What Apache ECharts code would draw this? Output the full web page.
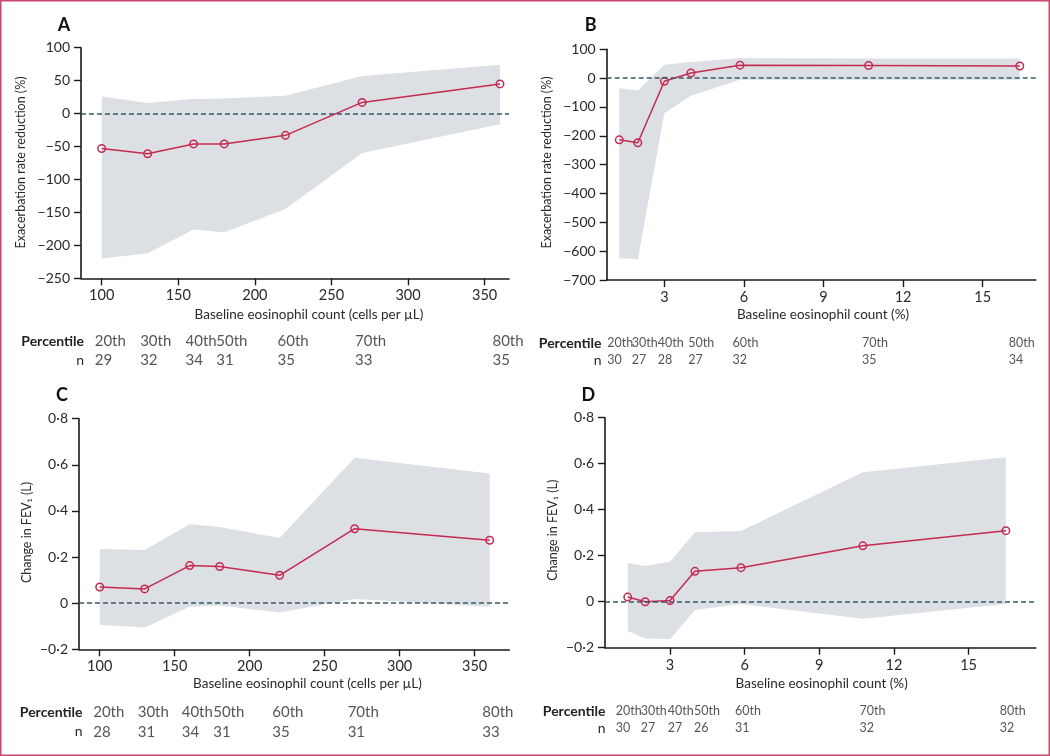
<!DOCTYPE html>
<html><head><meta charset="utf-8">
<script src="https://cdn.jsdelivr.net/npm/echarts@6/dist/echarts.min.js"></script>
<style>html,body{margin:0;padding:0;background:#fff}#c{width:1050px;height:756px}</style>
</head><body><div id="c"></div>
<script>
// ---------------- DATA ----------------
const eosCells = [100, 130, 160, 180, 220, 270, 360];
const eosPctB = [1.3, 2.0, 3.0, 4.0, 5.85, 10.7, 16.4];
const eosPctD = [1.3, 2.0, 3.0, 4.0, 5.85, 10.75, 16.5];
const percentiles = ['20th', '30th', '40th', '50th', '60th', '70th', '80th'];
const xTicksCells = [100, 150, 200, 250, 300, 350];
const xTicksPct = [3, 6, 9, 12, 15];

const rateA = [-53, -61, -46, -46, -33, 17, 45];
const rateA_lo = [-220, -212, -176, -180, -145, -60, -16];
const rateA_hi = [26, 16, 22, 23, 27, 57, 74];
const nA = [29, 32, 34, 31, 35, 33, 35];

const rateB = [-214, -224, -11, 18, 45, 44, 42];
const rateB_lo = [-625, -628, -122, -61, -6, -6, -6];
const rateB_hi = [-35, -43, 46, 56, 69, 68, 68];
const nB = [30, 27, 28, 27, 32, 35, 34];

const fevC = [0.07, 0.062, 0.163, 0.159, 0.121, 0.323, 0.273];
const fevC_lo = [-0.094, -0.105, -0.016, -0.01, -0.04, 0.018, -0.015];
const fevC_hi = [0.235, 0.231, 0.342, 0.33, 0.283, 0.631, 0.562];
const nC = [28, 31, 34, 31, 35, 31, 33];

const fevD = [0.02, 0, 0.005, 0.132, 0.148, 0.243, 0.309];
const fevD_lo = [-0.127, -0.16, -0.163, -0.036, -0.01, -0.074, -0.01];
const fevD_hi = [0.168, 0.155, 0.174, 0.302, 0.307, 0.563, 0.628];
const nD = [30, 27, 27, 26, 31, 32, 32];

// ---------------- STYLE / LAYOUT ----------------
const FONT = 'Lato, "Open Sans", sans-serif';
const RED = '#c42b52';
const BAND = '#dcdfe3';
const ZERO = '#3a5a64';
const AX = '#1a1a1a';
const TXT = '#2a2a2a';

const panels = [
  { letter: 'A', lp: [64, 25], grid: { left: 81, top: 47.7, width: 428, height: 230.6 },
    xr: [86.5, 365.9], xt: xTicksCells, yr: [-250, 100, 50], dec: 0,
    xs: eosCells, v: rateA, lo: rateA_lo, hi: rateA_hi, n: nA,
    rows: [341, 360.3], rowRight: 84, tfs: 15, nudge: [-7, -7.5, -8, -8, -8, -7, -7.5],
    yName: ['Exacerbation rate reduction (%)', 21, 162.5],
    xName: ['Baseline eosinophil count (cells per µL)', 309, 314.3] },
  { letter: 'B', lp: [590.7, 25], grid: { left: 606.7, top: 49.3, width: 429, height: 230.7 },
    xr: [0.826, 17.0], xt: xTicksPct, yr: [-700, 100, 100], dec: 0,
    xs: eosPctB, v: rateB, lo: rateB_lo, hi: rateB_hi, n: nB,
    rows: [343.3, 360], rowRight: 601.5, tfs: 12.5, nudge: [-12, -6, -6.7, -2.7, -7.4, -6.6, -11],
    yName: ['Exacerbation rate reduction (%)', 546.7, 162.5],
    xName: ['Baseline eosinophil count (%)', 823, 314.3] },
  { letter: 'C', lp: [62, 395], grid: { left: 79, top: 418.7, width: 430.3, height: 230.6 },
    xr: [86.2, 373.1], xt: xTicksCells, yr: [-0.2, 0.8, 0.2], dec: 1,
    xs: eosCells, v: fevC, lo: fevC_lo, hi: fevC_hi, n: nC,
    rows: [712.3, 731.7], rowRight: 82.5, tfs: 15, nudge: [-6.5, -7, -8, -6.5, -7.4, -7, -7.4],
    yName: ['Change in FEV\u2081 (L)', 26.7, 532.5],
    xName: ['Baseline eosinophil count (cells per µL)', 307.5, 684] },
  { letter: 'D', lp: [588.3, 395], grid: { left: 605, top: 417.7, width: 430.7, height: 230 },
    xr: [0.385, 17.7], xt: xTicksPct, yr: [-0.2, 0.8, 0.2], dec: 1,
    xs: eosPctD, v: fevD, lo: fevD_lo, hi: fevD_hi, n: nD,
    rows: [711, 728.3], rowRight: 605.5, tfs: 12.5, nudge: [-12, -4.3, -2.3, -1, -6, -3.4, -6],
    yName: ['Change in FEV\u2081 (L)', 552.7, 530.3],
    xName: ['Baseline eosinophil count (%)', 821.7, 683.3] }
];

function fmtY(dec) {
  return function (v) {
    if (Math.abs(v) < 1e-9) return '0';
    const s = Math.abs(v).toFixed(dec).replace('.', '\u00b7');
    return (v < 0 ? '\u2212' : '') + s;
  };
}

const grid = [], xAxis = [], yAxis = [], series = [], graphic = [];

panels.forEach((p, i) => {
  const gi = i * 2;       // main grid index
  const ti = i * 2 + 1;   // table grid index
  grid.push(Object.assign({ containLabel: false }, p.grid));
  grid.push({ left: p.grid.left, width: p.grid.width, top: p.rows[0], height: p.rows[1] - p.rows[0] });

  xAxis.push({
    gridIndex: gi, type: 'value', min: p.xr[0], max: p.xr[1],
    axisLine: { show: true, onZero: false, lineStyle: { color: AX, width: 1.6 } },
    axisTick: { show: true, length: 7, lineStyle: { color: AX, width: 1.4 }, customValues: p.xt },
    axisLabel: { color: TXT, fontSize: 14.5, fontFamily: FONT, margin: 10, customValues: p.xt },
    splitLine: { show: false }
  });
  xAxis.push({ gridIndex: ti, type: 'value', min: p.xr[0], max: p.xr[1], show: false });

  yAxis.push({
    gridIndex: gi, type: 'value', min: p.yr[0], max: p.yr[1], interval: p.yr[2],
    axisLine: { show: true, onZero: false, lineStyle: { color: AX, width: 1.6 } },
    axisTick: { show: true, length: 7, lineStyle: { color: AX, width: 1.4 } },
    axisLabel: { color: TXT, fontSize: 14, fontFamily: FONT, margin: 11, formatter: fmtY(p.dec) },
    splitLine: { show: false }
  });
  yAxis.push({ gridIndex: ti, type: 'value', min: 0, max: 1, show: false });

  // confidence band
  series.push({
    type: 'custom', xAxisIndex: gi, yAxisIndex: gi, silent: true, z: 1,
    data: p.xs.map((x, k) => [x, p.lo[k], p.hi[k]]),
    encode: { x: 0, y: [1, 2] },
    renderItem: function (params, api) {
      if (params.dataIndex !== 0) return null;
      const pts = [];
      for (let k = 0; k < p.xs.length; k++) pts.push(api.coord([p.xs[k], p.hi[k]]));
      for (let k = p.xs.length - 1; k >= 0; k--) pts.push(api.coord([p.xs[k], p.lo[k]]));
      return { type: 'polygon', shape: { points: pts }, style: { fill: BAND } };
    }
  });
  // zero reference line
  series.push({
    type: 'line', xAxisIndex: gi, yAxisIndex: gi, data: [], z: 2, silent: true,
    markLine: { silent: true, symbol: 'none', label: { show: false },
      lineStyle: { type: [5, 3], width: 1.5, color: ZERO }, data: [{ yAxis: 0 }] }
  });
  // estimate line
  series.push({
    type: 'line', xAxisIndex: gi, yAxisIndex: gi, z: 3, silent: true,
    data: p.xs.map((x, k) => [x, p.v[k]]),
    symbol: 'circle', symbolSize: 7.5,
    lineStyle: { color: RED, width: 1.5 },
    itemStyle: { color: 'rgba(255,255,255,0)', borderColor: RED, borderWidth: 1.5 }
  });
  // table rows
  const mk = (row, texts) => p.xs.map((x, k) => ({
    value: [x, row, String(texts[k])],
    label: { offset: [p.nudge[k], 0] }
  }));
  series.push({
    type: 'scatter', xAxisIndex: ti, yAxisIndex: ti, symbolSize: 0, silent: true,
    data: mk(1, percentiles).concat(mk(0, p.n)),
    label: { show: true, position: 'right', distance: 0, color: TXT, fontSize: p.tfs,
      fontFamily: FONT, formatter: (d) => d.value[2] }
  });

  graphic.push({ type: 'text', x: p.lp[0], y: p.lp[1], silent: true,
    style: { text: p.letter, font: 'bold 18px ' + FONT, fill: '#111', align: 'center', verticalAlign: 'middle' } });
  graphic.push({ type: 'text', x: p.rowRight, y: p.rows[0], silent: true,
    style: { text: 'Percentile', font: 'bold 14px ' + FONT, fill: '#222', align: 'right', verticalAlign: 'middle' } });
  graphic.push({ type: 'text', x: p.rowRight, y: p.rows[1], silent: true,
    style: { text: 'n', font: '14px ' + FONT, fill: TXT, align: 'right', verticalAlign: 'middle' } });
  graphic.push({ type: 'text', x: p.xName[1], y: p.xName[2], silent: true,
    style: { text: p.xName[0], font: '13.5px ' + FONT, fill: TXT, align: 'center', verticalAlign: 'middle' } });
  graphic.push({ type: 'text', x: p.yName[1], y: p.yName[2], rotation: Math.PI / 2, silent: true,
    style: { text: p.yName[0], font: '12.5px ' + FONT, fill: TXT, align: 'center', verticalAlign: 'middle' } });
});

graphic.push({ type: 'rect', silent: true, z: 100,
  shape: { x: 0.75, y: 0.75, width: 1048.5, height: 754.5 },
  style: { fill: 'none', stroke: '#c9486b', lineWidth: 1.5 } });

const chart = echarts.init(document.getElementById('c'), null, { renderer: 'canvas' });
chart.setOption({
  backgroundColor: '#fff',
  animation: false,
  grid: grid, xAxis: xAxis, yAxis: yAxis, series: series, graphic: graphic
});
</script></body></html>
